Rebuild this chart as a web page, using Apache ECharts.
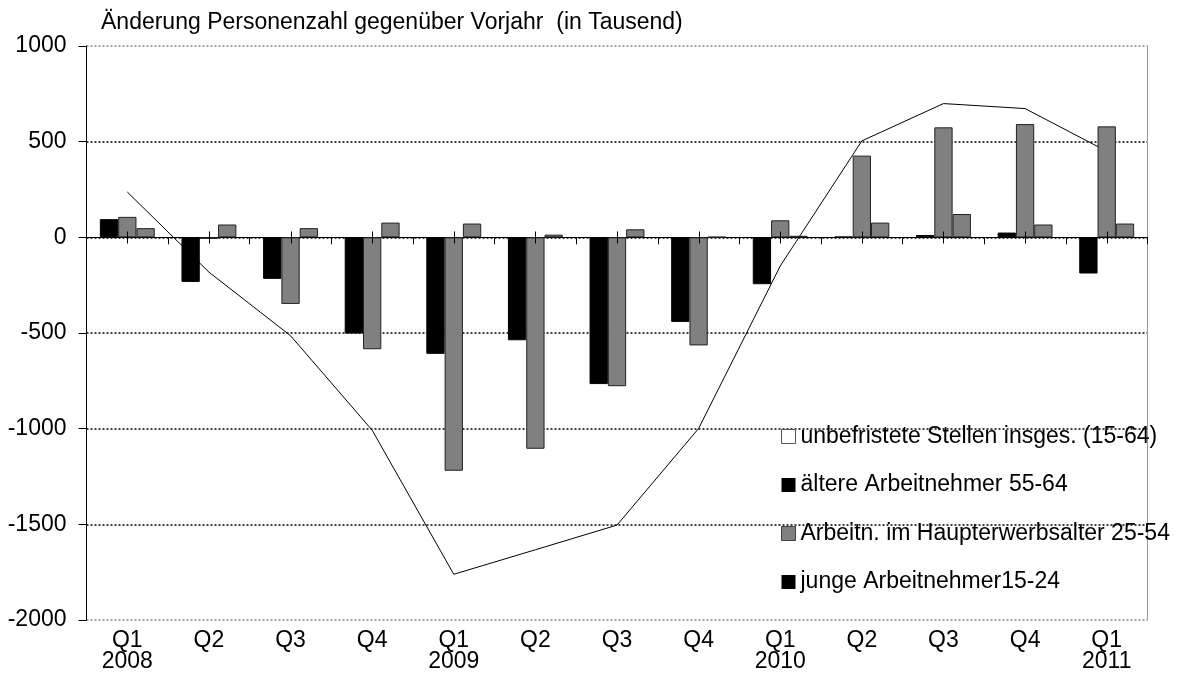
<!DOCTYPE html>
<html>
<head>
<meta charset="utf-8">
<script src="https://cdn.jsdelivr.net/npm/echarts@6/dist/echarts.min.js"></script>
<style>
html,body{margin:0;padding:0;background:#fff;}
#c{width:1178px;height:697px;}
</style>
</head>
<body>
<div id="c"></div>
<script>
const categories = ['Q1\n2008','Q2','Q3','Q4','Q1\n2009','Q2','Q3','Q4','Q1\n2010','Q2','Q3','Q4','Q1\n2011'];
const unbefristet = [237, -182, -514, -1008, -1761, -1633, -1504, -999, -150, 504, 699, 673, 450];
const aeltere = [95, -233, -217, -503, -609, -538, -767, -442, -245, 3, 12, 25, -189];
const haupterwerb = [107, -8, -348, -585, -1220, -1105, -778, -565, 89, 427, 575, 592, 580];
const junge = [48, 67, 48, 77, 72, 14, 42, 2, 8, 77, 122, 67, 72];
const yTicks = {min: -2000, max: 1000, interval: 500};

const FONT = 'Liberation Sans, Arial, sans-serif';
const names = ['unbefristete Stellen insges. (15-64)', 'ältere Arbeitnehmer 55-64', 'Arbeitn. im Haupterwerbsalter 25-54', 'junge Arbeitnehmer15-24'];

const chart = echarts.init(document.getElementById('c'), null, {renderer: 'canvas'});

// crossing tick mark at each category centre on the zero line (position from the axis scale)
function renderTicks(params, api) {
  const c = api.coord([api.value(0), 0]);
  const y = Math.round(c[1]) + 0.5;
  const xc = Math.round(c[0]) + 0.5;
  return {
    type: 'line',
    shape: {x1: xc, y1: y - 6, x2: xc, y2: y + 6},
    style: {stroke: '#000', lineWidth: 1}
  };
}

chart.setOption({
  animation: false,
  backgroundColor: '#fff',
  title: {
    text: 'Änderung Personenzahl gegenüber Vorjahr  (in Tausend)',
    left: 96, top: 6,
    textStyle: {fontFamily: FONT, fontSize: 23, fontWeight: 'normal', color: '#000'}
  },
  legend: {
    orient: 'vertical', left: 776, top: 420,
    itemWidth: 14, itemHeight: 14, itemGap: 25.5,
    textStyle: {fontFamily: FONT, fontSize: 23, color: '#000'},
    data: [
      {name: names[0], icon: 'rect', itemStyle: {color: '#fff', borderColor: '#555', borderWidth: 1}},
      {name: names[1], icon: 'rect', itemStyle: {color: '#000', borderColor: '#000', borderWidth: 0}},
      {name: names[2], icon: 'rect', itemStyle: {color: '#808080', borderColor: '#444', borderWidth: 1}},
      {name: names[3], icon: 'rect', itemStyle: {color: '#000', borderColor: '#000', borderWidth: 0}}
    ]
  },
  grid: {left: 86.5, right: 30.5, top: 46, bottom: 77, containLabel: false},
  xAxis: [
    {
      type: 'category', data: categories, gridIndex: 0, position: 'bottom',
      boundaryGap: true,
      axisLine: {show: false, onZero: false},
      axisTick: {show: false},
      axisLabel: {show: true, interval: 0, margin: 10, fontFamily: FONT, fontSize: 23, lineHeight: 21, color: '#000'},
      splitLine: {show: false}
    },
    {
      type: 'category', data: categories, gridIndex: 0, position: 'bottom',
      boundaryGap: true,
      axisLine: {show: true, onZero: true, onZeroAxisIndex: 0, lineStyle: {color: '#000', width: 1}},
      axisTick: {show: true, interval: 0, length: 7, lineStyle: {color: '#000', width: 1}},
      axisLabel: {show: false, interval: 0},
      splitLine: {show: false}
    }
  ],
  yAxis: [
    {
      type: 'value', min: yTicks.min, max: yTicks.max, interval: yTicks.interval,
      axisLine: {show: true, lineStyle: {color: '#000', width: 1}},
      axisTick: {show: true, length: 8, lineStyle: {color: '#000'}},
      axisLabel: {margin: 20, fontFamily: FONT, fontSize: 23, color: '#000', formatter: function (v) { return String(v); }},
      splitLine: {show: true, lineStyle: {color: ['#888', '#000', '#000', '#000', '#000', '#000', '#888'], type: [2, 2], width: 1.5}}
    },
    {
      type: 'value', position: 'right', min: yTicks.min, max: yTicks.max, interval: yTicks.interval,
      axisLine: {show: true, lineStyle: {color: '#999', width: 1}},
      axisTick: {show: false}, axisLabel: {show: false}, splitLine: {show: false}
    }
  ],
  series: [
    {
      name: names[0], type: 'line', data: unbefristet, xAxisIndex: 0, yAxisIndex: 0,
      showSymbol: false, symbol: 'none', z: 1,
      lineStyle: {color: '#000', width: 1},
      itemStyle: {color: '#fff'}
    },
    {
      name: names[1], type: 'bar', data: aeltere, xAxisIndex: 0, yAxisIndex: 0,
      barWidth: 18.3, barGap: '0%', barCategoryGap: '33%', z: 3,
      itemStyle: {color: '#000', borderColor: '#000', borderWidth: 1}
    },
    {
      name: names[2], type: 'bar', data: haupterwerb, xAxisIndex: 0, yAxisIndex: 0,
      barWidth: 18.3, barGap: '0%', z: 3,
      itemStyle: {color: '#808080', borderColor: '#222', borderWidth: 1}
    },
    {
      name: names[3], type: 'bar', data: junge, xAxisIndex: 0, yAxisIndex: 0,
      barWidth: 18.3, barGap: '0%', z: 3,
      itemStyle: {color: '#808080', borderColor: '#222', borderWidth: 1}
    },
    {
      type: 'custom', xAxisIndex: 0, yAxisIndex: 0, silent: true, z: 5,
      data: categories.map(function (c, i) { return [i]; }),
      encode: {x: 0},
      renderItem: renderTicks
    }
  ]
});
</script>
</body>
</html>
